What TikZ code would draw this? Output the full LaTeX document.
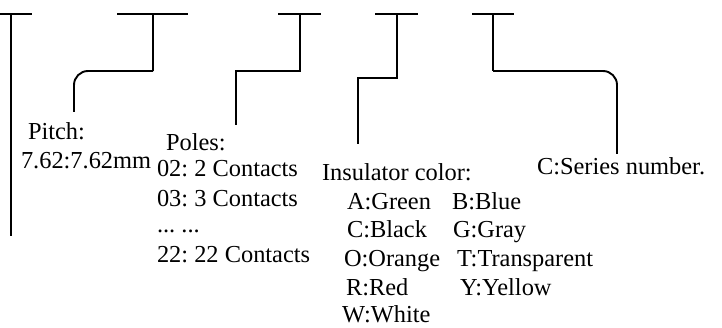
\documentclass[tikz,border=0pt]{standalone}
\usepackage{fontspec}
\setmainfont{Liberation Serif}
\frenchspacing
\begin{document}
\begin{tikzpicture}[x=1pt,y=-1pt,
  lead/.style={line width=1.9pt,line cap=butt,line join=miter},
  txt/.style={anchor=base west,inner sep=0pt,outer sep=0pt,font=\fontsize{24.4}{29}\selectfont}]
\useasboundingbox (0,0) rectangle (722,328);
% bar coordinates
\coordinate (b1l) at (0,14);   \coordinate (b1r) at (32,14);  \coordinate (b1m) at (11,14);  \coordinate (b1e) at (11,236);
\coordinate (b2l) at (117,14); \coordinate (b2r) at (188,14); \coordinate (b2m) at (153,14); \coordinate (b2k) at (153,71);
\coordinate (b2c) at (74,71);  \coordinate (b2e) at (74,112);
\coordinate (b3l) at (278,14); \coordinate (b3r) at (321,14); \coordinate (b3m) at (300,14); \coordinate (b3k) at (300,71);
\coordinate (b3c) at (236,71); \coordinate (b3e) at (236,125);
\coordinate (b4l) at (375,14); \coordinate (b4r) at (418,14); \coordinate (b4m) at (397,14); \coordinate (b4k) at (397,78);
\coordinate (b4c) at (358,78); \coordinate (b4e) at (358,144);
\coordinate (b5l) at (472,14); \coordinate (b5r) at (514,14); \coordinate (b5m) at (493,14); \coordinate (b5k) at (493,71);
\coordinate (b5c) at (617,71); \coordinate (b5e) at (617,154);
% leaders
\draw[lead] (b1l) -- (b1r);  \draw[lead] (b1m) -- (b1e);
\draw[lead] (b2l) -- (b2r);  \draw[lead] (b2m) -- (b2k);
\draw[lead,rounded corners=14pt] (b2k) -- (b2c) -- (b2e);
\draw[lead] (b3l) -- (b3r);  \draw[lead] (b3m) -- (b3k) -- (b3c) -- (b3e);
\draw[lead] (b4l) -- (b4r);  \draw[lead] (b4m) -- (b4k) -- (b4c) -- (b4e);
\draw[lead] (b5l) -- (b5r);  \draw[lead] (b5m) -- (b5k);
\draw[lead,rounded corners=14pt] (b5k) -- (b5c) -- (b5e);
% texts
\node[txt] (pitch) at (28,140) {Pitch:};
\node[txt] (pitchv) at (21,169) {7.62:7.62mm};
\node[txt] (poles) at (166,151) {Poles:};
\node[txt] (p02) at (157,177) {02: 2 Contacts};
\node[txt] (p03) at (157,207) {03: 3 Contacts};
\node[txt] (pdots) at (157,233) {... ...};
\node[txt] (p22) at (157,263) {22: 22 Contacts};
\node[txt] (ins) at (322,181) {Insulator color:};
\node[txt] (cA) at (347,210) {A:Green};
\node[txt] (cB) at (452,210) {B:Blue};
\node[txt] (cC) at (347,238) {C:Black};
\node[txt] (cG) at (453,238) {G:Gray};
\node[txt] (cO) at (344,267) {O:Orange};
\node[txt] (cT) at (457,267) {T:Transparent};
\node[txt] (cR) at (346,295) {R:Red};
\node[txt] (cY) at (460,295) {Y:Yellow};
\node[txt] (cW) at (342,323) {W:White};
\node[txt] (ser) at (537,175) {C:Series number.};
\end{tikzpicture}
\end{document}
